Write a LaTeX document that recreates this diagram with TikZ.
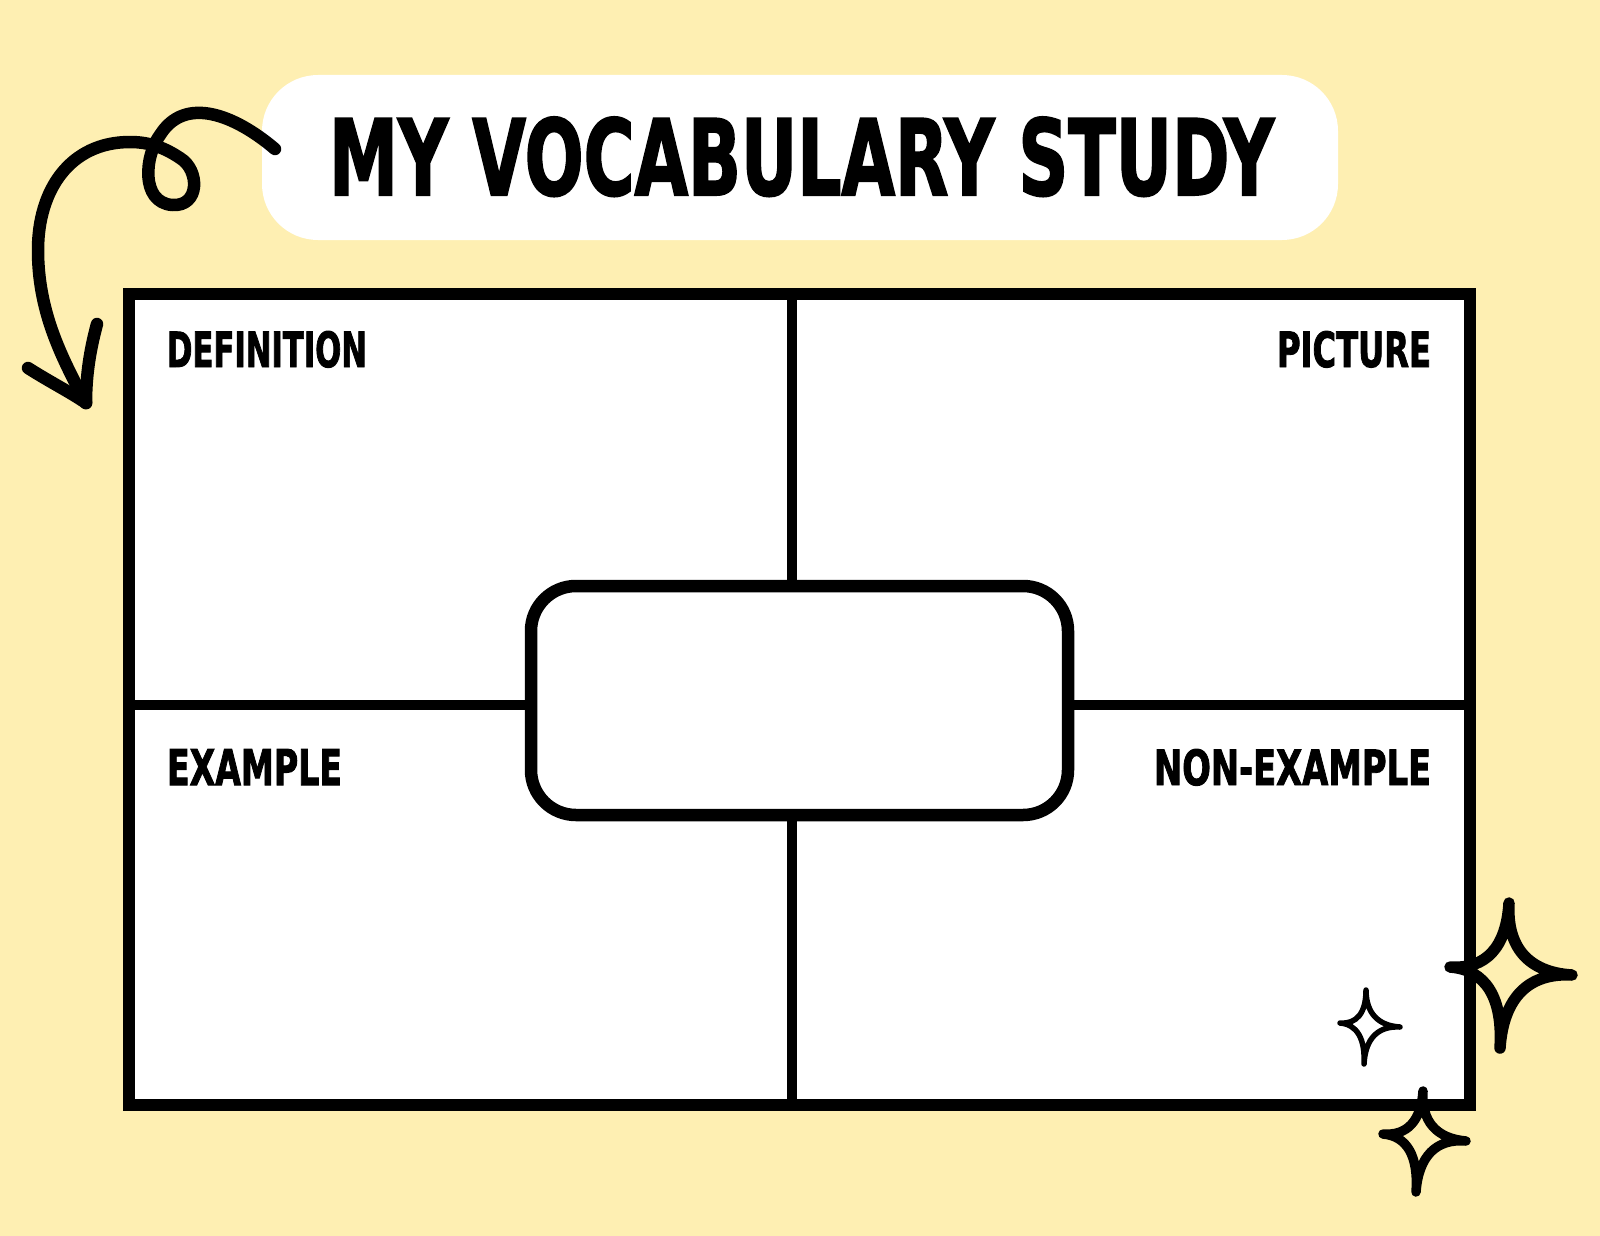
\documentclass[tikz,border=0pt]{standalone}
\usepackage{fontspec}
\usepackage{graphicx}
\newfontfamily\handfont{DejaVu Sans Condensed}[BoldFeatures={FakeBold=2}]
\usetikzlibrary{calc}
\definecolor{bgyellow}{RGB}{254,239,178}
\newcommand\sparkleshape[6]{%
  \draw[ink,line width=#6] (#1) .. controls ($(#1)!0.65!(#5)$) and ($(#2)!0.65!(#5)$) .. (#2)
   .. controls ($(#2)!0.65!(#5)$) and ($(#3)!0.65!(#5)$) .. (#3)
   .. controls ($(#3)!0.65!(#5)$) and ($(#4)!0.65!(#5)$) .. (#4)
   .. controls ($(#4)!0.65!(#5)$) and ($(#1)!0.65!(#5)$) .. cycle;}
\begin{document}
\begin{tikzpicture}[x=1pt,y=-1pt,
  ink/.style={draw=black,line cap=round,line join=round},
  gridline/.style={draw=black,line width=11.5pt,line join=miter},
  arrowline/.style={ink,line width=12.5pt},
  lbl/.style={inner sep=0pt,outer sep=0pt,anchor=north west,font=\handfont\bfseries}
]
\useasboundingbox (0,0) rectangle (1600,1236);
\fill[bgyellow] (0,0) rectangle (1600,1236);
% title pill
\fill[white,rounded corners=56pt] (262,75) rectangle (1338,240);
\node[lbl] (title) at (329,117) {\resizebox{945pt}{78pt}{MY VOCABULARY STUDY}};
% grid
\draw[gridline,fill=white] (129,294) rectangle (1470,1105);
\draw[gridline,line width=10.5pt] (792,294) -- (792,1105);
\draw[gridline,line width=10.5pt] (129,705) -- (1470,705);
\draw[ink,line width=12.5pt,fill=white,rounded corners=45pt] (531,586) rectangle (1068,815);
% labels
\node[lbl] (def) at (167,331) {\resizebox{200pt}{36pt}{DEFINITION}};
\node[lbl] (pic) at (1277,331) {\resizebox{154pt}{36pt}{PICTURE}};
\node[lbl] (ex) at (167,749) {\resizebox{175pt}{36pt}{EXAMPLE}};
\node[lbl] (nonex) at (1154,749) {\resizebox{277pt}{36pt}{NON-EXAMPLE}};
% curly arrow
\draw[arrowline] (275,149) .. controls (235,115) and (185,95) .. (160,135)
  .. controls (145,155) and (140,202) .. (172,205)
  .. controls (200,207) and (200,170) .. (180,158)
  .. controls (165,148) and (150,142) .. (130,142)
  .. controls (70,142) and (38,190) .. (38,250)
  .. controls (38,310) and (60,355) .. (86,403);
\draw[arrowline] (28,368) .. controls (50,382) and (70,392) .. (86,403);
\draw[arrowline] (97,324) .. controls (90,350) and (86,375) .. (86,403);
% sparkles
\sparkleshape{1509,903}{1572,975}{1500,1048}{1450,967}{1505,971}{11.5pt}
\sparkleshape{1423,1091}{1466,1141}{1416,1192}{1383,1134}{1420,1137}{9.5pt}
\sparkleshape{1366,990}{1400,1027}{1364,1064}{1340,1023}{1366,1025}{5.5pt}
\end{tikzpicture}
\end{document}
